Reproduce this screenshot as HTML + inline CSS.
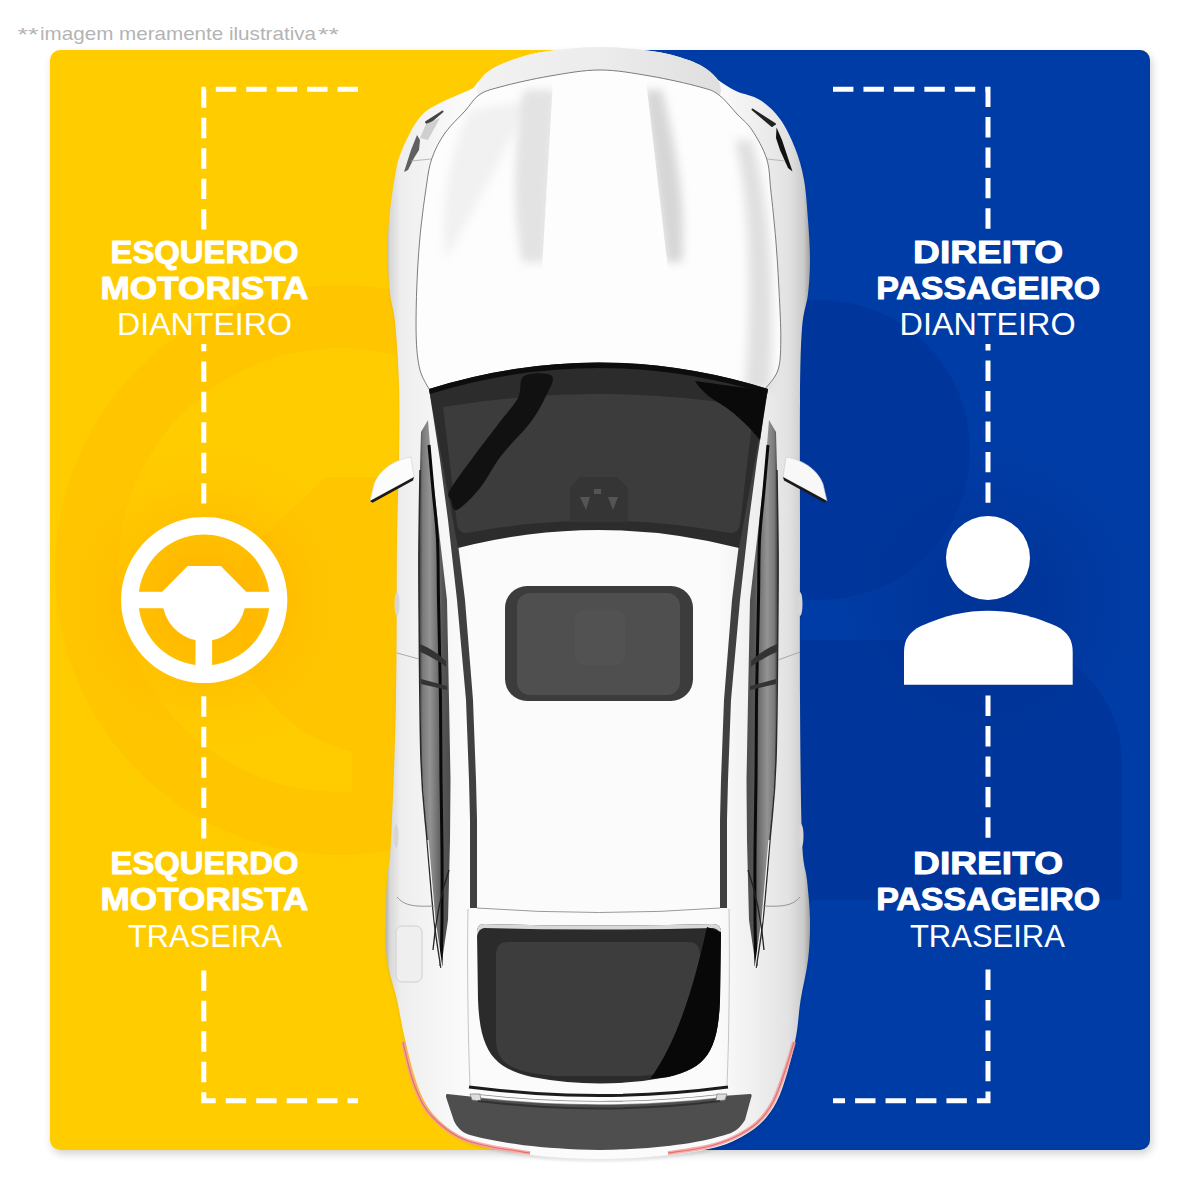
<!DOCTYPE html>
<html><head><meta charset="utf-8">
<style>
html,body{margin:0;padding:0;background:#fff;}
body{width:1200px;height:1200px;position:relative;overflow:hidden;font-family:"Liberation Sans",sans-serif;}
svg{position:absolute;left:0;top:0;}
</style></head>
<body>
<svg width="1200" height="1200" viewBox="0 0 1200 1200">
<defs>
  <filter id="cardsh" x="-5%" y="-5%" width="110%" height="110%">
    <feGaussianBlur in="SourceAlpha" stdDeviation="4"/>
    <feOffset dx="2" dy="4"/>
    <feComponentTransfer><feFuncA type="linear" slope="0.18"/></feComponentTransfer>
    <feMerge><feMergeNode/><feMergeNode in="SourceGraphic"/></feMerge>
  </filter>
  <clipPath id="gOuter"><circle cx="340" cy="570" r="285"/></clipPath>
  <clipPath id="cardclip"><rect x="50" y="50" width="1100" height="1100" rx="10"/></clipPath>
  <radialGradient id="glowY" cx="204" cy="600" r="150" gradientUnits="userSpaceOnUse">
    <stop offset="0" stop-color="#ffae00" stop-opacity="0.9"/>
    <stop offset="0.55" stop-color="#ffb400" stop-opacity="0.45"/>
    <stop offset="1" stop-color="#ffc000" stop-opacity="0"/>
  </radialGradient>
  <radialGradient id="glowB" cx="988" cy="600" r="150" gradientUnits="userSpaceOnUse">
    <stop offset="0" stop-color="#002f8f" stop-opacity="0.7"/>
    <stop offset="1" stop-color="#002f8f" stop-opacity="0"/>
  </radialGradient>
  <mask id="dashmask" maskUnits="userSpaceOnUse" x="0" y="0" width="1200" height="1200">
    <rect x="0" y="0" width="1200" height="1200" fill="#fff"/>
    <rect x="100" y="231" width="1000" height="113" fill="#000"/>
    <rect x="100" y="842" width="1000" height="124" fill="#000"/>
    <rect x="100" y="505" width="1000" height="189" fill="#000"/>
  </mask>
</defs>

<!-- disclaimer -->
<g font-family="Liberation Sans" font-size="18.5" fill="#b4b4b4">
  <text x="17.5" y="41" textLength="21" lengthAdjust="spacingAndGlyphs">**</text>
  <text x="40" y="39.7" textLength="276" lengthAdjust="spacingAndGlyphs">imagem meramente ilustrativa</text>
  <text x="318" y="41" textLength="21" lengthAdjust="spacingAndGlyphs">**</text>
</g>

<!-- card -->
<g filter="url(#cardsh)">
  <rect x="50" y="50" width="1100" height="1100" rx="10" fill="#ffcc00"/>
</g>
<g clip-path="url(#cardclip)">
  <rect x="600" y="50" width="550" height="1100" fill="#003ca5"/>
  <!-- subtle background shapes -->
  <g id="bgshapes">
    <g opacity="0.45" fill="#ffbf00">
      <path fill-rule="evenodd" d="M340 285 A285 285 0 1 0 340.01 285 Z M340 348 A222 222 0 1 1 339.99 348 Z"/>
      <path d="M352 690 H600 V845 H352 Z" clip-path="url(#gOuter)"/>
      <path d="M242 555 L326 477 H600 V752 H352 C300 738 262 705 242 655 Z"/>
    </g>
    <path fill="#002c8e" opacity="0.4" d="M600 300 H820 A150 150 0 0 1 820 600 H600 Z"/>
    <path fill="#002c8e" opacity="0.4" d="M600 640 H1000 A122 122 0 0 1 1122 762 V900 H600 Z"/>
  </g>
  <circle cx="204" cy="600" r="150" fill="url(#glowY)"/>
  <circle cx="988" cy="600" r="150" fill="url(#glowB)"/>
</g>

<!-- brackets -->
<g mask="url(#dashmask)" fill="none" stroke="#fff" stroke-width="5" stroke-dasharray="20.4 10.05" stroke-linejoin="miter">
  <path d="M358 89.3 H203.8 V1100.7 H358"/>
  <path d="M833 89.3 H988 V1100.7 H833"/>
</g>

<!-- steering wheel -->
<g fill="#fff">
  <path fill-rule="evenodd" d="M204.2 516.9 a83.1 83.1 0 1 0 0.01 0 Z M204 534.4 a65.6 65.6 0 1 1 -0.01 0 Z"/>
  <rect x="137" y="591.8" width="134" height="16.4"/>
  <path d="M187.6 566 H220.8 L246.2 591.8 V608.2 H244.6 A41.5 41.5 0 0 1 163.4 608.2 H162.2 V591.8 Z"/>
  <rect x="195.5" y="630" width="16.6" height="40"/>
</g>

<!-- person -->
<g fill="#fff">
  <circle cx="988" cy="558" r="42"/>
  <path d="M904 684.7 V652 C904 640 909 632 921 626 C946 615 966 610.8 988.4 610.8 C1011 610.8 1031 615 1056 626 C1068 632 1072.7 640 1072.7 652 V684.7 Z"/>
</g>

<!-- labels -->
<g fill="#fff" font-family="Liberation Sans" text-anchor="middle">
  <g font-weight="bold" font-size="31" stroke="#fff" stroke-width="0.9" stroke-linejoin="round">
    <text x="204.5" y="262.5" textLength="188" lengthAdjust="spacingAndGlyphs">ESQUERDO</text>
    <text x="204.5" y="298.7" textLength="208" lengthAdjust="spacingAndGlyphs">MOTORISTA</text>
    <text x="204.5" y="873.5" textLength="188" lengthAdjust="spacingAndGlyphs">ESQUERDO</text>
    <text x="204.5" y="910.2" textLength="208" lengthAdjust="spacingAndGlyphs">MOTORISTA</text>
    <text x="988.1" y="262.5" textLength="150" lengthAdjust="spacingAndGlyphs">DIREITO</text>
    <text x="988.2" y="298.7" textLength="224" lengthAdjust="spacingAndGlyphs">PASSAGEIRO</text>
    <text x="988.1" y="873.5" textLength="150" lengthAdjust="spacingAndGlyphs">DIREITO</text>
    <text x="988.2" y="910.2" textLength="224" lengthAdjust="spacingAndGlyphs">PASSAGEIRO</text>
  </g>
  <g font-size="31">
    <text x="204.5" y="334.8" textLength="175" lengthAdjust="spacingAndGlyphs">DIANTEIRO</text>
    <text x="205" y="947.3" textLength="154" lengthAdjust="spacingAndGlyphs">TRASEIRA</text>
    <text x="987.6" y="334.8" textLength="176" lengthAdjust="spacingAndGlyphs">DIANTEIRO</text>
    <text x="987.4" y="947.3" textLength="155" lengthAdjust="spacingAndGlyphs">TRASEIRA</text>
  </g>
</g>

<!-- CAR START -->
<g id="car">
<defs>
<linearGradient id="bodyG" x1="386" y1="0" x2="810" y2="0" gradientUnits="userSpaceOnUse"><stop offset="0" stop-color="#b4b4b4"/><stop offset="0.01" stop-color="#d8d8d8"/><stop offset="0.035" stop-color="#eeeeee"/><stop offset="0.1" stop-color="#f4f4f4"/><stop offset="0.2" stop-color="#fbfbfb"/><stop offset="0.78" stop-color="#fbfbfb"/><stop offset="0.88" stop-color="#eeeeee"/><stop offset="0.95" stop-color="#e2e2e2"/><stop offset="0.985" stop-color="#cbcbcb"/><stop offset="1" stop-color="#a0a0a0"/></linearGradient>
<linearGradient id="winL" x1="0" y1="0" x2="1" y2="0"><stop offset="0" stop-color="#3a3a3a"/><stop offset="0.12" stop-color="#7a7a7a"/><stop offset="0.35" stop-color="#939393"/><stop offset="0.62" stop-color="#6a6a6a"/><stop offset="0.75" stop-color="#555"/><stop offset="1" stop-color="#4c4c4c"/></linearGradient>
<linearGradient id="winR" x1="1" y1="0" x2="0" y2="0"><stop offset="0" stop-color="#3a3a3a"/><stop offset="0.12" stop-color="#7a7a7a"/><stop offset="0.35" stop-color="#939393"/><stop offset="0.62" stop-color="#6a6a6a"/><stop offset="0.75" stop-color="#555"/><stop offset="1" stop-color="#4c4c4c"/></linearGradient>
<linearGradient id="frontG" x1="470" y1="0" x2="730" y2="0" gradientUnits="userSpaceOnUse"><stop offset="0" stop-color="#f2f2f2"/><stop offset="0.5" stop-color="#ececec"/><stop offset="1" stop-color="#dedede"/></linearGradient>
<filter id="blur3" x="-50%" y="-20%" width="200%" height="140%"><feGaussianBlur stdDeviation="5"/></filter>
<filter id="blur1" x="-50%" y="-50%" width="200%" height="200%"><feGaussianBlur stdDeviation="1.2"/></filter>
</defs>
<path d="M600.0 47.0 C611.3 47.0 622.7 47.8 634.0 49.0 C645.3 50.2 657.0 51.3 668.0 54.0 C679.0 56.7 691.7 60.7 700.0 65.0 C708.3 69.3 712.0 75.7 718.0 80.0 C724.0 84.3 729.0 87.7 736.0 91.0 C743.0 94.3 752.7 95.3 760.0 100.0 C767.3 104.7 774.2 111.0 780.0 119.0 C785.8 127.0 791.0 137.8 795.0 148.0 C799.0 158.2 801.8 168.0 804.0 180.0 C806.2 192.0 807.0 206.7 808.0 220.0 C809.0 233.3 810.0 247.7 810.0 260.0 C810.0 272.3 809.3 282.7 808.0 294.0 C806.7 305.3 803.3 310.3 802.0 328.0 C800.7 345.7 800.3 364.7 800.0 400.0 C799.7 435.3 800.0 490.0 800.0 540.0 C800.0 590.0 799.7 650.0 800.0 700.0 C800.3 750.0 800.8 810.0 802.0 840.0 C803.2 870.0 805.7 866.7 807.0 880.0 C808.3 893.3 809.8 906.7 810.0 920.0 C810.2 933.3 809.6 946.7 808.0 960.0 C806.4 973.3 802.6 987.5 800.6 1000.0 C798.6 1012.5 798.4 1023.2 796.3 1035.0 C794.2 1046.8 791.1 1059.8 787.8 1071.0 C784.5 1082.2 781.2 1093.1 776.5 1102.0 C771.8 1110.9 766.4 1118.3 759.5 1124.6 C752.6 1130.9 743.9 1135.9 735.4 1140.0 C726.9 1144.1 721.1 1146.3 708.5 1149.0 C695.9 1151.7 678.1 1154.3 660.0 1156.0 C641.9 1157.7 620.0 1159.0 600.0 1159.0 C580.0 1159.0 557.8 1157.8 540.0 1156.0 C522.2 1154.2 505.5 1150.8 493.0 1148.0 C480.5 1145.2 473.2 1142.8 465.0 1139.0 C456.8 1135.2 450.3 1130.5 444.0 1125.0 C437.7 1119.5 431.8 1113.8 427.0 1106.0 C422.2 1098.2 418.8 1089.8 415.0 1078.0 C411.2 1066.2 407.0 1048.0 404.0 1035.0 C401.0 1022.0 399.8 1012.5 397.0 1000.0 C394.2 987.5 388.8 973.3 387.0 960.0 C385.2 946.7 386.0 933.3 386.0 920.0 C386.0 906.7 386.2 893.3 387.0 880.0 C387.8 866.7 389.5 870.0 391.0 840.0 C392.5 810.0 395.0 750.0 396.0 700.0 C397.0 650.0 396.5 580.0 397.0 540.0 C397.5 500.0 398.7 485.8 399.0 460.0 C399.3 434.2 399.7 408.0 399.0 385.0 C398.3 362.0 396.5 337.2 395.0 322.0 C393.5 306.8 391.2 304.3 390.0 294.0 C388.8 283.7 388.2 272.3 388.0 260.0 C387.8 247.7 387.7 235.0 389.0 220.0 C390.3 205.0 393.8 181.7 396.0 170.0 C398.2 158.3 399.8 155.8 402.0 150.0 C404.2 144.2 406.8 139.3 409.0 135.0 C411.2 130.7 412.3 127.8 415.0 124.0 C417.7 120.2 420.8 115.5 425.0 112.0 C429.2 108.5 434.2 106.0 440.0 103.0 C445.8 100.0 454.5 96.5 460.0 94.0 C465.5 91.5 469.7 90.3 473.0 88.0 C476.3 85.7 475.8 83.7 480.0 80.0 C484.2 76.3 489.3 70.3 498.0 66.0 C506.7 61.7 520.7 56.8 532.0 54.0 C543.3 51.2 554.7 50.2 566.0 49.0 C577.3 47.8 588.7 47.0 600.0 47.0 Z" fill="#000" opacity="0.07" transform="translate(0,3)" filter="url(#blur1)"/>
<path d="M600.0 47.0 C611.3 47.0 622.7 47.8 634.0 49.0 C645.3 50.2 657.0 51.3 668.0 54.0 C679.0 56.7 691.7 60.7 700.0 65.0 C708.3 69.3 712.0 75.7 718.0 80.0 C724.0 84.3 729.0 87.7 736.0 91.0 C743.0 94.3 752.7 95.3 760.0 100.0 C767.3 104.7 774.2 111.0 780.0 119.0 C785.8 127.0 791.0 137.8 795.0 148.0 C799.0 158.2 801.8 168.0 804.0 180.0 C806.2 192.0 807.0 206.7 808.0 220.0 C809.0 233.3 810.0 247.7 810.0 260.0 C810.0 272.3 809.3 282.7 808.0 294.0 C806.7 305.3 803.3 310.3 802.0 328.0 C800.7 345.7 800.3 364.7 800.0 400.0 C799.7 435.3 800.0 490.0 800.0 540.0 C800.0 590.0 799.7 650.0 800.0 700.0 C800.3 750.0 800.8 810.0 802.0 840.0 C803.2 870.0 805.7 866.7 807.0 880.0 C808.3 893.3 809.8 906.7 810.0 920.0 C810.2 933.3 809.6 946.7 808.0 960.0 C806.4 973.3 802.6 987.5 800.6 1000.0 C798.6 1012.5 798.4 1023.2 796.3 1035.0 C794.2 1046.8 791.1 1059.8 787.8 1071.0 C784.5 1082.2 781.2 1093.1 776.5 1102.0 C771.8 1110.9 766.4 1118.3 759.5 1124.6 C752.6 1130.9 743.9 1135.9 735.4 1140.0 C726.9 1144.1 721.1 1146.3 708.5 1149.0 C695.9 1151.7 678.1 1154.3 660.0 1156.0 C641.9 1157.7 620.0 1159.0 600.0 1159.0 C580.0 1159.0 557.8 1157.8 540.0 1156.0 C522.2 1154.2 505.5 1150.8 493.0 1148.0 C480.5 1145.2 473.2 1142.8 465.0 1139.0 C456.8 1135.2 450.3 1130.5 444.0 1125.0 C437.7 1119.5 431.8 1113.8 427.0 1106.0 C422.2 1098.2 418.8 1089.8 415.0 1078.0 C411.2 1066.2 407.0 1048.0 404.0 1035.0 C401.0 1022.0 399.8 1012.5 397.0 1000.0 C394.2 987.5 388.8 973.3 387.0 960.0 C385.2 946.7 386.0 933.3 386.0 920.0 C386.0 906.7 386.2 893.3 387.0 880.0 C387.8 866.7 389.5 870.0 391.0 840.0 C392.5 810.0 395.0 750.0 396.0 700.0 C397.0 650.0 396.5 580.0 397.0 540.0 C397.5 500.0 398.7 485.8 399.0 460.0 C399.3 434.2 399.7 408.0 399.0 385.0 C398.3 362.0 396.5 337.2 395.0 322.0 C393.5 306.8 391.2 304.3 390.0 294.0 C388.8 283.7 388.2 272.3 388.0 260.0 C387.8 247.7 387.7 235.0 389.0 220.0 C390.3 205.0 393.8 181.7 396.0 170.0 C398.2 158.3 399.8 155.8 402.0 150.0 C404.2 144.2 406.8 139.3 409.0 135.0 C411.2 130.7 412.3 127.8 415.0 124.0 C417.7 120.2 420.8 115.5 425.0 112.0 C429.2 108.5 434.2 106.0 440.0 103.0 C445.8 100.0 454.5 96.5 460.0 94.0 C465.5 91.5 469.7 90.3 473.0 88.0 C476.3 85.7 475.8 83.7 480.0 80.0 C484.2 76.3 489.3 70.3 498.0 66.0 C506.7 61.7 520.7 56.8 532.0 54.0 C543.3 51.2 554.7 50.2 566.0 49.0 C577.3 47.8 588.7 47.0 600.0 47.0 Z" fill="url(#bodyG)"/>
<path d="M600.0 47.0 C611.3 47.0 622.7 47.8 634.0 49.0 C645.3 50.2 657.0 51.3 668.0 54.0 C679.0 56.7 691.7 60.7 700.0 65.0 C708.3 69.3 714.8 75.0 718.0 80.0 C721.2 85.0 722.0 93.8 719.0 95.0 C716.0 96.2 711.5 90.2 700.0 87.0 C688.5 83.8 666.7 78.8 650.0 76.0 C633.3 73.2 616.7 70.0 600.0 70.0 C583.3 70.0 566.7 73.2 550.0 76.0 C533.3 78.8 511.8 83.8 500.0 87.0 C488.2 90.2 482.3 96.2 479.0 95.0 C475.7 93.8 477.0 84.8 480.0 80.0 C483.0 75.2 488.3 70.3 497.0 66.0 C505.7 61.7 520.5 56.8 532.0 54.0 C543.5 51.2 554.7 50.2 566.0 49.0 C577.3 47.8 588.7 47.0 600.0 47.0 Z" fill="url(#frontG)"/>
<path d="M429.0 389.0 C427.5 385.8 422.1 378.2 420.0 370.0 C417.9 361.8 416.9 353.3 416.3 340.0 C415.8 326.7 416.1 306.7 416.7 290.0 C417.3 273.3 418.2 256.7 419.7 240.0 C421.2 223.3 423.8 203.5 425.8 190.0 C427.8 176.5 428.5 168.5 431.7 159.0 C434.9 149.5 439.4 141.0 445.0 133.0 C450.6 125.0 459.3 117.3 465.0 111.0 C470.7 104.7 473.2 99.0 479.0 95.0 C484.8 91.0 488.2 90.2 500.0 87.0 C511.8 83.8 533.3 78.8 550.0 76.0 C566.7 73.2 583.3 70.0 600.0 70.0 C616.7 70.0 633.3 73.2 650.0 76.0 C666.7 78.8 688.5 83.8 700.0 87.0 C711.5 90.2 712.8 90.5 719.0 95.0 C725.2 99.5 731.5 108.2 737.0 114.0 C742.5 119.8 747.0 122.5 752.0 130.0 C757.0 137.5 763.6 149.0 766.7 159.0 C769.8 169.0 769.3 176.5 770.8 190.0 C772.3 203.5 774.4 223.3 775.8 240.0 C777.2 256.7 778.2 273.3 779.0 290.0 C779.8 306.7 781.0 326.7 780.8 340.0 C780.6 353.3 780.6 361.8 778.0 370.0 C775.4 378.2 767.2 385.8 765.0 389.0 L741 546 Q600 512 457 546 Z" fill="#fdfdfd"/>
<clipPath id="crL"><path d="M470 80 L553 80 L542 270 L470 270 Z"/></clipPath>
<clipPath id="crR"><path d="M646 80 L730 80 L730 270 L668 270 Z"/></clipPath>
<g clip-path="url(#crL)"><path d="M524 90 C514 150 512 200 522 262 L546 262 L556 90 Z" fill="#b8b8b8" opacity="0.38" filter="url(#blur3)"/></g>
<g clip-path="url(#crR)"><path d="M662 90 C676 150 686 200 682 262 L666 262 L644 90 Z" fill="#a8a8a8" opacity="0.46" filter="url(#blur3)"/></g>
<g filter="url(#blur3)"><path d="M752 140 C770 200 776 300 770 389 L745 389 C752 300 750 200 735 140 Z" fill="#c8c8c8" opacity="0.55"/><path d="M470 110 C450 150 440 200 445 260 C470 220 500 160 530 100 Z" fill="#d6d6d6" opacity="0.3"/></g>
<path d="M429.0 389.0 C427.5 385.8 422.1 378.2 420.0 370.0 C417.9 361.8 416.9 353.3 416.3 340.0 C415.8 326.7 416.1 306.7 416.7 290.0 C417.3 273.3 418.2 256.7 419.7 240.0 C421.2 223.3 423.8 203.5 425.8 190.0 C427.8 176.5 428.5 168.5 431.7 159.0 C434.9 149.5 439.4 141.0 445.0 133.0 C450.6 125.0 459.3 117.3 465.0 111.0 C470.7 104.7 473.2 99.0 479.0 95.0 C484.8 91.0 488.2 90.2 500.0 87.0 C511.8 83.8 533.3 78.8 550.0 76.0 C566.7 73.2 583.3 70.0 600.0 70.0 C616.7 70.0 633.3 73.2 650.0 76.0 C666.7 78.8 688.5 83.8 700.0 87.0 C711.5 90.2 712.8 90.5 719.0 95.0 C725.2 99.5 731.5 108.2 737.0 114.0 C742.5 119.8 747.0 122.5 752.0 130.0 C757.0 137.5 763.6 149.0 766.7 159.0 C769.8 169.0 769.3 176.5 770.8 190.0 C772.3 203.5 774.4 223.3 775.8 240.0 C777.2 256.7 778.2 273.3 779.0 290.0 C779.8 306.7 781.0 326.7 780.8 340.0 C780.6 353.3 780.6 361.8 778.0 370.0 C775.4 378.2 767.2 385.8 765.0 389.0" fill="none" stroke="#6e6e6e" stroke-width="0.9"/>
<path d="M442.5 111.5 L426 122 L428 124 Z" fill="#444" stroke="#444" stroke-width="2" stroke-linejoin="round"/>
<path d="M426 124 L440 118 L428 140 L420 138 Z" fill="#cfcfcf"/>
<path d="M417 135 L411 150 L404 172 L408 170 L414 158 L419 150 L420 140 Z" fill="#606060"/>
<path d="M411 161 L431 159" stroke="#aaa" stroke-width="0.8"/>
<path d="M752.5 109.5 L775 124 L772 126 Z" fill="#222" stroke="#222" stroke-width="2" stroke-linejoin="round"/>
<path d="M776.5 127.5 L782 140 L792.5 171.5 L788 168 L780 150 L776 138 Z" fill="#111"/>
<path d="M767 159 L785 161" stroke="#aaa" stroke-width="0.8"/>
<path d="M429.0 389.0 L440.0 460.0 L448.0 520.0 L457.0 600.0 L466.0 700.0 L469.0 780.0 L470.0 820.0 L470.0 908.0 L477.0 908.0 L477.0 820.0 L476.0 780.0 L473.0 700.0 L465.0 600.0 L455.0 520.0 L447.0 460.0 L437.0 389.0 Z" fill="#404040"/>
<path d="M768.0 389.0 L757.0 460.0 L749.0 520.0 L740.0 600.0 L731.0 700.0 L728.0 780.0 L727.0 820.0 L727.0 908.0 L720.0 908.0 L720.0 820.0 L721.0 780.0 L724.0 700.0 L732.0 600.0 L742.0 520.0 L750.0 460.0 L760.0 389.0 Z" fill="#404040"/>
<path d="M421.0 432.0 L428.0 420.0 L432.0 470.0 L440.0 540.0 L447.0 600.0 L449.0 700.0 L450.5 780.0 L450.0 840.0 L448.0 920.0 L441.0 968.0 L434.0 920.0 L427.0 840.0 L421.0 760.0 L419.0 600.0 L419.0 540.0 L420.0 470.0 Z" fill="url(#winL)"/>
<path d="M776.0 432.0 L769.0 420.0 L765.0 470.0 L757.0 540.0 L750.0 600.0 L748.0 700.0 L746.5 780.0 L747.0 840.0 L749.0 920.0 L756.0 968.0 L763.0 920.0 L770.0 840.0 L776.0 760.0 L778.0 600.0 L778.0 540.0 L777.0 470.0 Z" fill="url(#winR)"/>
<path d="M429.0 445.0 C429.7 452.5 431.6 474.2 433.0 490.0 C434.4 505.8 436.6 521.7 437.5 540.0 C438.4 558.3 438.0 573.3 438.5 600.0 C439.0 626.7 440.1 670.0 440.5 700.0 C440.9 730.0 440.8 755.0 441.0 780.0 C441.2 805.0 441.8 826.7 442.0 850.0 C442.2 873.3 442.2 900.7 442.0 920.0 C441.8 939.3 441.2 958.3 441.0 966.0" fill="none" stroke="#0a0a0a" stroke-width="3"/>
<path d="M768.0 445.0 C767.3 452.5 765.4 474.2 764.0 490.0 C762.6 505.8 760.4 521.7 759.5 540.0 C758.6 558.3 759.0 573.3 758.5 600.0 C758.0 626.7 756.9 670.0 756.5 700.0 C756.1 730.0 756.2 755.0 756.0 780.0 C755.8 805.0 755.2 826.7 755.0 850.0 C754.8 873.3 754.8 900.7 755.0 920.0 C755.2 939.3 755.8 958.3 756.0 966.0" fill="none" stroke="#0a0a0a" stroke-width="3"/>
<path d="M420.0 470.0 C419.8 481.7 419.2 518.3 419.0 540.0 C418.8 561.7 418.7 563.3 419.0 600.0 C419.3 636.7 419.7 720.0 421.0 760.0 C422.3 800.0 424.8 813.3 427.0 840.0 C429.2 866.7 431.7 898.7 434.0 920.0 C436.3 941.3 439.8 960.0 441.0 968.0" fill="none" stroke="#2a2a2a" stroke-width="1.5"/>
<path d="M777.0 470.0 C777.2 481.7 777.8 518.3 778.0 540.0 C778.2 561.7 778.3 563.3 778.0 600.0 C777.7 636.7 777.3 720.0 776.0 760.0 C774.7 800.0 772.2 813.3 770.0 840.0 C767.8 866.7 765.3 898.7 763.0 920.0 C760.7 941.3 757.2 960.0 756.0 968.0" fill="none" stroke="#2a2a2a" stroke-width="1.5"/>
<path d="M428 840 L435 920 L442 968" fill="none" stroke="#fff" stroke-width="1.2" opacity="0.9"/>
<path d="M769 840 L762 920 L755 968" fill="none" stroke="#fff" stroke-width="1.2" opacity="0.9"/>
<path d="M420 644 C430 648 440 655 446 661 L446 667 C440 662 430 656 420 652 Z" fill="#333"/>
<path d="M421 679 L447 686 L447 690 L421 684 Z" fill="#333"/>
<path d="M777 644 C767 648 757 655 751 661 L751 667 C757 662 767 656 777 652 Z" fill="#333"/>
<path d="M776 679 L750 686 L750 690 L776 684 Z" fill="#333"/>
<path d="M449 870 C442 890 436 915 433 950" fill="none" stroke="#222" stroke-width="1.3"/>
<path d="M748 870 C755 890 761 915 764 950" fill="none" stroke="#222" stroke-width="1.3"/>
<path d="M429 389 Q598.5 336 768 389 L739 548 Q598.5 512 458 548 Z" fill="#2c2c2c"/>
<path d="M429 389 Q598.5 336 768 389 L767 394 Q598.5 342 430 394 Z" fill="#0d0d0d"/>
<path d="M443 407 Q598.5 381 754 407 L740 524 Q739 533 730 533 Q598.5 508 467 533 Q458 533 457 524 Z" fill="#3c3c3c"/>
<path d="M524.0 376.0 C529.7 372.3 548.5 372.3 552.0 376.0 C555.5 379.7 548.7 390.2 545.0 398.0 C541.3 405.8 537.3 413.3 530.0 423.0 C522.7 432.7 509.3 445.2 501.0 456.0 C492.7 466.8 487.3 479.0 480.0 488.0 C472.7 497.0 461.8 508.0 457.0 510.0 C452.2 512.0 452.2 503.3 451.0 500.0 C449.8 496.7 446.2 497.3 450.0 490.0 C453.8 482.7 465.8 467.2 474.0 456.0 C482.2 444.8 491.7 432.7 499.0 423.0 C506.3 413.3 513.8 405.8 518.0 398.0 C522.2 390.2 518.3 379.7 524.0 376.0 Z" fill="#111"/>
<path d="M695 381 L767 391 L760 440 C748 425 732 410 714 400 C707 395 699 388 695 381 Z" fill="#0a0a0a"/>
<path d="M580 477 L617 477 L628 488 L628 522 L570 522 L570 488 Z" fill="#353535"/>
<path d="M580 497 L590 497 L586 510 Z" fill="#555"/><path d="M608 497 L618 497 L613 510 Z" fill="#555"/><rect x="594" y="489" width="7" height="5" fill="#555"/>
<rect x="505" y="586" width="188" height="115" rx="22" fill="#3c3c3c"/>
<rect x="517" y="593" width="163" height="102" rx="13" fill="#4f4f4f"/>
<rect x="575" y="610" width="50" height="55" rx="8" fill="#555" opacity="0.5"/>
<path d="M477 908 Q600 917 720 908" fill="none" stroke="#999" stroke-width="1"/>
<path d="M468 909 C467 960 468 1040 470 1085" stroke="#c4c4c4" stroke-width="1" fill="none"/>
<path d="M729 909 C730 960 729 1040 727 1085" stroke="#c4c4c4" stroke-width="1" fill="none"/>
<path d="M484 924 Q600 927 713 924 Q721 924 721 932 L720 1000 C718 1052 706 1068 668 1077 Q600 1090 532 1077 C494 1068 480 1052 478 1000 L477 932 Q477 924 484 924 Z" fill="#2b2b2b"/>
<path d="M484 924 Q600 927 713 924 Q721 924 721 932 L720.5 936 Q720 929 713 928 Q600 931 484 928 Q478 929 477.5 936 L477 932 Q477 924 484 924 Z" fill="#d8d8d8"/>
<path d="M508 942 H688 Q700 942 700 955 V1040 C700 1064 682 1073 640 1076 H556 C514 1073 496 1064 496 1040 V955 Q496 942 508 942 Z" fill="#3d3d3d"/>
<path d="M707 927 L721 932 L720 1000 C718 1052 706 1068 668 1077 L650 1079 C675 1045 692 995 707 927 Z" fill="#080808"/>
<path d="M447 1094 L475 1097 Q600 1110 722 1096 L750 1094 C752 1094 752 1096 751 1098 L745 1120 C740 1128 735 1132 728 1134 C700 1143 660 1149 600 1150 C540 1149 500 1143 470 1135 C462 1133 457 1127 454 1121 L446 1097 C446 1095 446 1094 447 1094 Z" fill="#4e4e4e"/>
<path d="M469 1087 Q600 1104 728 1087" fill="none" stroke="#1c1c1c" stroke-width="3"/>
<path d="M477 1096 Q600 1110 721 1096" fill="none" stroke="#888" stroke-width="4.2"/>
<path d="M477 1096 Q600 1110 721 1096" fill="none" stroke="#fbfbfb" stroke-width="2.6"/>
<path d="M470 1094 L480 1094 L481 1101 L472 1100 Z M727 1094 L717 1094 L716 1101 L725 1100 Z" fill="#ddd" stroke="#777" stroke-width="0.7"/>
<path d="M478 1101 Q600 1116 720 1101" fill="none" stroke="#2a2a2a" stroke-width="2" opacity="0.8"/>
<path d="M403.0 1042.0 C404.5 1048.0 408.5 1067.3 412.0 1078.0 C415.5 1088.7 419.2 1098.2 424.0 1106.0 C428.8 1113.8 434.5 1119.5 441.0 1125.0 C447.5 1130.5 454.5 1135.3 463.0 1139.0 C471.5 1142.7 480.8 1144.7 492.0 1147.0 C503.2 1149.3 523.7 1152.0 530.0 1153.0" fill="none" stroke="#f6a0a0" stroke-width="4" opacity="0.85"/>
<path d="M403.0 1042.0 C404.5 1048.0 408.5 1067.3 412.0 1078.0 C415.5 1088.7 419.2 1098.2 424.0 1106.0 C428.8 1113.8 434.5 1119.5 441.0 1125.0 C447.5 1130.5 454.5 1135.3 463.0 1139.0 C471.5 1142.7 480.8 1144.7 492.0 1147.0 C503.2 1149.3 523.7 1152.0 530.0 1153.0" fill="none" stroke="#e06a6a" stroke-width="1.2" opacity="0.9"/>
<path d="M794.0 1042.0 C792.5 1046.8 788.5 1061.0 785.0 1071.0 C781.5 1081.0 777.7 1093.3 773.0 1102.0 C768.3 1110.7 763.7 1117.0 757.0 1123.0 C750.3 1129.0 741.5 1134.0 733.0 1138.0 C724.5 1142.0 716.8 1144.5 706.0 1147.0 C695.2 1149.5 674.3 1152.0 668.0 1153.0" fill="none" stroke="#f6a0a0" stroke-width="4" opacity="0.85"/>
<path d="M794.0 1042.0 C792.5 1046.8 788.5 1061.0 785.0 1071.0 C781.5 1081.0 777.7 1093.3 773.0 1102.0 C768.3 1110.7 763.7 1117.0 757.0 1123.0 C750.3 1129.0 741.5 1134.0 733.0 1138.0 C724.5 1142.0 716.8 1144.5 706.0 1147.0 C695.2 1149.5 674.3 1152.0 668.0 1153.0" fill="none" stroke="#e06a6a" stroke-width="1.2" opacity="0.9"/>
<rect x="396" y="926" width="26" height="56" rx="6" fill="#efefef" stroke="#cfcfcf" stroke-width="1"/>
<ellipse cx="397" cy="604" rx="2.5" ry="12" fill="#d6d6d6"/>
<ellipse cx="800.0" cy="604" rx="2.5" ry="12" fill="#d6d6d6"/>
<ellipse cx="396" cy="836" rx="2.5" ry="12" fill="#d6d6d6"/>
<ellipse cx="801.0" cy="836" rx="2.5" ry="12" fill="#d6d6d6"/>
<path d="M397 897 C404 905 412 907 434 906" fill="none" stroke="#8a8a8a" stroke-width="0.9"/>
<path d="M800 897 C793 905 785 907 763 906" fill="none" stroke="#8a8a8a" stroke-width="0.9"/>
<path d="M397 653 L419 659" stroke="#999" stroke-width="0.8"/>
<path d="M800 652 L778 660" stroke="#999" stroke-width="0.8"/>
<path d="M411 457 C397 459 380 468 374 484 L370 501 L414 477 Z" fill="#fcfcfc" stroke="#d0d0d0" stroke-width="0.6"/>
<path d="M370 501 L414 477 L413 480.5 L372.5 502.8 Z" fill="#1a1a1a"/>
<path d="M786 457 C800 459 817 468 823 484 L827 501 L783 477 Z" fill="#f8f8f8" stroke="#c8c8c8" stroke-width="0.6"/>
<path d="M827 501 L783 477 L784 480.5 L824.5 502.8 Z" fill="#1a1a1a"/>
</g>
<!-- CAR END -->
</svg>
</body></html>
